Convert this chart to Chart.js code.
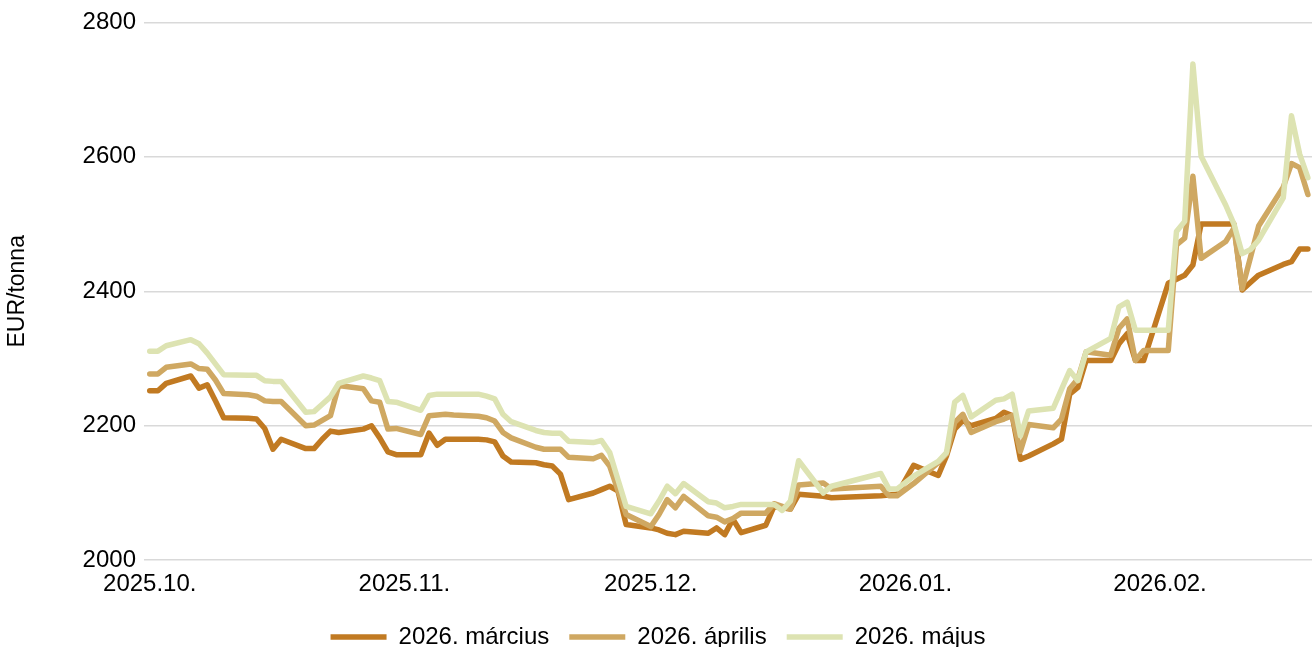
<!DOCTYPE html>
<html>
<head>
<meta charset="utf-8">
<script src="https://cdn.jsdelivr.net/npm/chart.js@4.4.1/dist/chart.umd.min.js"></script>
<style>
    html, body { margin: 0; padding: 0; background: #ffffff; }
    #wrap { width: 1314px; height: 647px; }
</style>
</head>
<body>
<div id="wrap"><canvas id="arakGrafikon" width="1314" height="647"></canvas></div>
<script>
// Kereskedési napok és a három lejárat záróárai (EUR/tonna)
const napok = [
    '2025-10-01', '2025-10-02', '2025-10-03', '2025-10-06', '2025-10-07', '2025-10-08', '2025-10-09', '2025-10-10',
    '2025-10-13', '2025-10-14', '2025-10-15', '2025-10-16', '2025-10-17', '2025-10-20', '2025-10-21', '2025-10-22',
    '2025-10-23', '2025-10-24', '2025-10-27', '2025-10-28', '2025-10-29', '2025-10-30', '2025-10-31',
    '2025-11-03', '2025-11-04', '2025-11-05', '2025-11-06', '2025-11-07', '2025-11-10', '2025-11-11', '2025-11-12',
    '2025-11-13', '2025-11-14', '2025-11-17', '2025-11-18', '2025-11-19', '2025-11-20', '2025-11-21', '2025-11-24',
    '2025-11-25', '2025-11-26', '2025-11-27', '2025-11-28',
    '2025-12-01', '2025-12-02', '2025-12-03', '2025-12-04', '2025-12-05', '2025-12-08', '2025-12-09', '2025-12-10',
    '2025-12-11', '2025-12-12', '2025-12-15', '2025-12-16', '2025-12-17', '2025-12-18', '2025-12-19', '2025-12-22',
    '2025-12-23', '2025-12-29', '2025-12-30', '2025-12-31',
    '2026-01-02', '2026-01-05', '2026-01-06', '2026-01-07', '2026-01-08', '2026-01-09', '2026-01-12', '2026-01-13',
    '2026-01-14', '2026-01-15', '2026-01-16', '2026-01-19', '2026-01-20', '2026-01-21', '2026-01-22', '2026-01-23',
    '2026-01-26', '2026-01-27', '2026-01-28', '2026-01-29', '2026-01-30',
    '2026-02-02', '2026-02-03', '2026-02-04', '2026-02-05', '2026-02-06', '2026-02-09', '2026-02-10', '2026-02-11',
    '2026-02-12', '2026-02-13', '2026-02-16', '2026-02-17', '2026-02-18', '2026-02-19'
];

const marcius = [
    2252, 2252, 2263, 2274, 2256, 2261, 2237, 2212, 2211, 2210, 2196, 2165, 2180, 2166, 2166, 2180, 2192, 2190, 2195, 2200, 2182, 2161, 2157,
    2157, 2189, 2171, 2180, 2180, 2180, 2179, 2176, 2155, 2146, 2145, 2142, 2140, 2128, 2090, 2100, 2105, 2110, 2103, 2053,
    2048, 2045, 2040, 2038, 2043, 2040, 2048, 2038, 2061, 2041, 2052, 2080, 2078, 2076, 2098, 2095, 2093, 2096, 2097, 2098,
    2141, 2126, 2155, 2195, 2208, 2200, 2211, 2220, 2215, 2150, 2155, 2173, 2180, 2247, 2257, 2297, 2297, 2322, 2337, 2297, 2297,
    2412, 2418, 2424, 2439, 2500, 2500, 2500, 2402, 2413, 2424, 2440, 2444, 2463, 2463
];

const aprilis = [
    2277, 2277, 2287, 2292, 2285, 2284, 2268, 2248, 2246, 2244, 2237, 2236, 2236, 2200, 2201, 2208, 2215, 2260, 2255, 2237, 2235, 2195, 2196,
    2187, 2215, 2216, 2217, 2216, 2214, 2212, 2207, 2190, 2182, 2168, 2165, 2165, 2165, 2153, 2151, 2156, 2140, 2104, 2068,
    2050, 2068, 2090, 2078, 2095, 2066, 2064, 2057, 2062, 2070, 2070, 2084, 2080, 2076, 2112, 2115, 2106, 2110, 2096, 2096,
    2114, 2145, 2158, 2205, 2217, 2190, 2206, 2210, 2215, 2162, 2202, 2197, 2210, 2255, 2270, 2310, 2305, 2345, 2359, 2297, 2312,
    2312, 2469, 2479, 2571, 2449, 2474, 2494, 2404, 2450, 2497, 2555, 2590, 2584, 2544
];

const majus = [
    2311, 2311, 2319, 2328, 2322, 2308, 2292, 2276, 2275, 2275, 2267, 2266, 2266, 2220, 2221, 2232, 2243, 2263, 2274, 2271, 2267, 2236, 2235,
    2223, 2245, 2247, 2247, 2247, 2247, 2244, 2240, 2217, 2206, 2193, 2190, 2189, 2189, 2177, 2175, 2178, 2160, 2120, 2080,
    2069, 2088, 2110, 2099, 2114, 2087, 2085, 2078, 2080, 2083, 2083, 2083, 2074, 2088, 2148, 2100, 2110, 2129, 2106, 2106,
    2125, 2147, 2160, 2235, 2245, 2213, 2238, 2240, 2247, 2185, 2222, 2226, 2254, 2282, 2267, 2310, 2330, 2377, 2384, 2342, 2342,
    2342, 2489, 2504, 2738, 2601, 2528, 2500, 2456, 2462, 2476, 2539, 2661, 2604, 2569
];

const sorozatNevek = ['2026. március', '2026. április', '2026. május'];
const honapKezdetek = ['2025-10-01', '2025-11-01', '2025-12-01', '2026-01-01', '2026-02-01'];
const honapCimkek = ['2025.10.', '2025.11.', '2025.12.', '2026.01.', '2026.02.'];
const yTickek = [2000, 2200, 2400, 2600, 2800];

const kezdoNap = Date.parse('2025-10-01');
function napSzam(datum) {
    return (Date.parse(datum) - kezdoNap) / 86400000;
}

function pontok(ertekek) {
    return napok.map((d, i) => ({ x: napSzam(d), y: ertekek[i] }));
}

const honapPoz = honapKezdetek.map(napSzam);
const betu = 'Liberation Sans, Arial, sans-serif';

function sorozat(nev, ertekek, szin, sorrend) {
    return {
        label: nev,
        data: pontok(ertekek),
        borderColor: szin,
        backgroundColor: szin,
        borderWidth: 5.5,
        pointRadius: 0,
        tension: 0,
        borderJoinStyle: 'round',
        borderCapStyle: 'round',
        order: sorrend
    };
}

// a jelmagyarázat alatti üres sáv levágása, hogy lejjebb kerüljön
const jelmagyarazatIgazitas = {
    id: 'jelmagyarazatIgazitas',
    beforeInit(chart) {
        const eredetiFit = chart.legend.fit;
        chart.legend.fit = function () {
            eredetiFit.call(this);
            this.height -= 12;
        };
    }
};

const ctx = document.getElementById('arakGrafikon').getContext('2d');
new Chart(ctx, {
    type: 'line',
    data: {
        datasets: [
            sorozat(sorozatNevek[0], marcius, '#c17a22', 3),
            sorozat(sorozatNevek[1], aprilis, '#cfa862', 2),
            sorozat(sorozatNevek[2], majus, '#dde3b2', 1)
        ]
    },
    plugins: [jelmagyarazatIgazitas],
    options: {
        responsive: false,
        animation: false,
        layout: { padding: { left: 4, right: 2, top: 12, bottom: 0 } },
        plugins: {
            tooltip: { enabled: false },
            legend: {
                position: 'bottom',
                labels: {
                    usePointStyle: true,
                    pointStyle: 'line',
                    pointStyleWidth: 56,
                    boxHeight: 24,
                    padding: 20,
                    color: '#000000',
                    font: { family: betu, size: 24 },
                    sort: (a, b) => a.datasetIndex - b.datasetIndex
                }
            }
        },
        scales: {
            x: {
                type: 'linear',
                min: -0.7,
                max: 141.5,
                grid: { display: false },
                border: { display: false },
                afterBuildTicks: axis => {
                    axis.ticks = honapPoz.map(v => ({ value: v }));
                },
                // hely a dátumcímkék és a jelmagyarázat között
                afterFit: axis => {
                    axis.height += 4;
                },
                ticks: {
                    autoSkip: false,
                    maxRotation: 0,
                    padding: 2,
                    color: '#000000',
                    font: { family: betu, size: 24 },
                    callback: value => {
                        const i = honapPoz.indexOf(value);
                        return i >= 0 ? honapCimkek[i] : '';
                    }
                }
            },
            y: {
                min: yTickek[0],
                max: yTickek[yTickek.length - 1],
                afterBuildTicks: axis => {
                    axis.ticks = yTickek.map(v => ({ value: v }));
                },
                grid: { color: '#d9d9d9', lineWidth: 1.5, drawTicks: false },
                border: { display: false },
                ticks: {
                    padding: 8,
                    color: '#000000',
                    font: { family: betu, size: 24 },
                    callback: v => String(v)
                },
                title: {
                    display: true,
                    text: 'EUR/tonna',
                    color: '#000000',
                    font: { family: betu, size: 23 },
                    padding: { top: 0, bottom: 43 }
                }
            }
        }
    }
});
</script>
</body>
</html>
